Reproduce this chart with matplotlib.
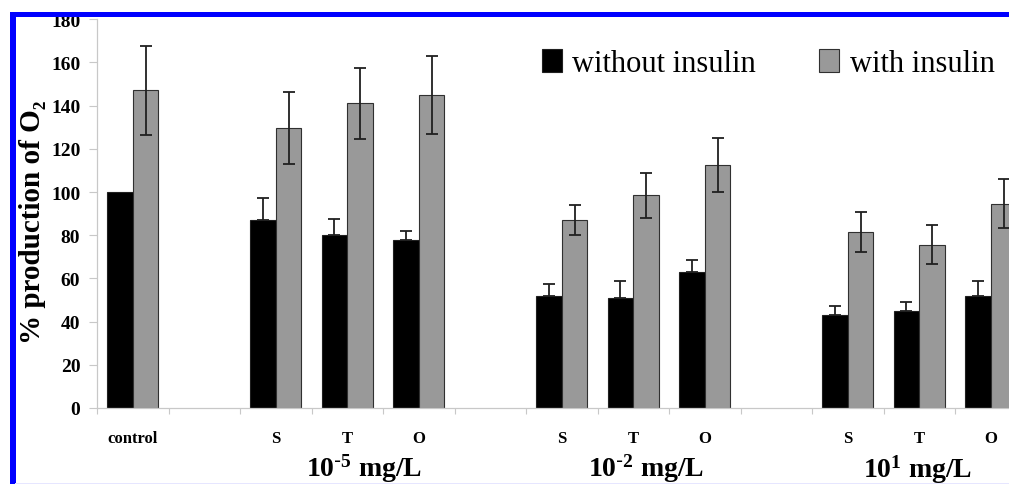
import matplotlib
matplotlib.use("Agg")
import matplotlib.pyplot as plt
from matplotlib.patches import Rectangle, Patch
import matplotlib.transforms as mtransforms
import numpy as np

# ---------------- data ----------------
categories = ["control", "", "S", "T", "O", "", "S", "T", "O", "", "S", "T", "O"]
without_insulin = [100, None, 87, 80, 78, None, 52, 51, 63, None, 43, 45, 52]
without_err = [0, None, 10, 7.5, 4, None, 5.4, 7.7, 5.6, None, 4.2, 4.2, 7]
with_insulin = [147, None, 129.5, 141, 145, None, 87, 98.5, 112.5, None, 81.5, 75.5, 94.5]
with_err = [20.5, None, 16.7, 16.6, 18, None, 7, 10.5, 12.4, None, 9.3, 9, 11.3]
group_labels = ["10$^{\\text{-}5}$ mg/L", "10$^{\\text{-}2}$ mg/L", "10$^{1}$ mg/L"]
legend_labels = ["without insulin", "with insulin"]
yticks = [0, 20, 40, 60, 80, 100, 120, 140, 160, 180]

# ---------------- style ----------------
W, H = 1009, 485
plt.rcParams["font.family"] = ["Liberation Serif", "DejaVu Serif"]
plt.rcParams["mathtext.default"] = "regular"

fig = plt.figure(figsize=(W / 100, H / 100), dpi=100)
# axes: left at x=97px, bottom at y=409px, 13 categories of 71.5px each
ax = fig.add_axes([97 / W, (H - 409) / H, 13 * 71.5 / W, (409 - 20.2) / H])

n = len(categories)
idx = np.arange(n)
bw = 0.357

bx, by, be = [], [], []
gx, gy, ge = [], [], []
for i in range(n):
    if without_insulin[i] is not None:
        bx.append(i - bw / 2); by.append(without_insulin[i]); be.append(without_err[i])
        gx.append(i + bw / 2); gy.append(with_insulin[i]); ge.append(with_err[i])

ax.bar(bx, by, width=bw, color="#000000", edgecolor="#202020", linewidth=0.8, zorder=2)
ax.bar(gx, gy, width=bw, color="#999999", edgecolor="#303030", linewidth=0.8, zorder=2)

# black bars: upward error only (drawn beneath the bar so the lower half is hidden)
ex = [x for x, e in zip(bx, be) if e > 0]
ey = [y for y, e in zip(by, be) if e > 0]
ee = [e for e in be if e > 0]
ax.errorbar(ex, ey, yerr=[np.zeros(len(ee)), ee], fmt="none", ecolor="#202020",
            elinewidth=1.3, capsize=4.5, capthick=1.3, zorder=1.5)
ax.errorbar(gx, gy, yerr=ge, fmt="none", ecolor="#202020",
            elinewidth=1.3, capsize=4.5, capthick=1.3, zorder=3)

ax.set_xlim(-0.5, n - 0.5)
ax.set_ylim(0, 180)
ax.set_yticks(yticks)
ax.set_yticklabels([str(v) for v in yticks], fontsize=14, fontweight="bold")
ax.tick_params(axis="y", length=6, width=0.8, color="#c8c8c8", pad=6)

ax.set_xticks(np.arange(-0.5, n, 1.0))
ax.set_xticklabels([])
ax.tick_params(axis="x", which="major", length=4, width=0.8, color="#c8c8c8")
ax.set_xticks(idx, minor=True)
ax.set_xticklabels(categories, minor=True, fontsize=12, fontweight="bold")
ax.tick_params(axis="x", which="minor", length=0, pad=16)

for s in ["top", "right"]:
    ax.spines[s].set_visible(False)
for s in ["left", "bottom"]:
    ax.spines[s].set_color("#c8c8c8")
    ax.spines[s].set_linewidth(0.9)

# group labels (data x position, pixel baseline y)
group_x = [3.23, 7.18, 10.98]
group_y = [477, 477, 478]
tr = mtransforms.blended_transform_factory(ax.transData, fig.transFigure)
for lab, gxp, gyp in zip(group_labels, group_x, group_y):
    ax.text(gxp, 1 - gyp / H, lab, transform=tr, ha="center", va="baseline",
            fontsize=20, fontweight="bold", zorder=30)

# y label
fig.text(33 / W, 1 - 222 / H, "% production of O\u2082", rotation=90, ha="center",
         va="center", fontsize=21, fontweight="bold")

# legend
handles = [Patch(facecolor="#000000", edgecolor="#202020", linewidth=0.8),
           Patch(facecolor="#999999", edgecolor="#303030", linewidth=0.8)]
fig.legend(handles, legend_labels, loc="upper left", bbox_to_anchor=(542 / W, 1 - 50 / H),
           ncol=2, frameon=False, fontsize=22, handlelength=0.66, handleheight=0.78,
           handletextpad=0.33, columnspacing=2.07, borderpad=0, borderaxespad=0)

# blue frame / cropping of the original figure
def px_rect(x0, y0, x1, y1, color, z=20):
    fig.add_artist(Rectangle((x0 / W, 1 - y1 / H), (x1 - x0) / W, (y1 - y0) / H,
                             transform=fig.transFigure, facecolor=color, edgecolor="none",
                             zorder=z))

px_rect(0, 0, 10, H, "white")
px_rect(0, 0, W, 13, "white")
px_rect(10, 13, 15.5, H, "#0000ff", 21)
px_rect(10, 13, W, 17.5, "#0000ff", 21)
px_rect(15, 483.5, W, H, "#e6e6ff", 21)

fig.savefig("out.png", dpi=100)
